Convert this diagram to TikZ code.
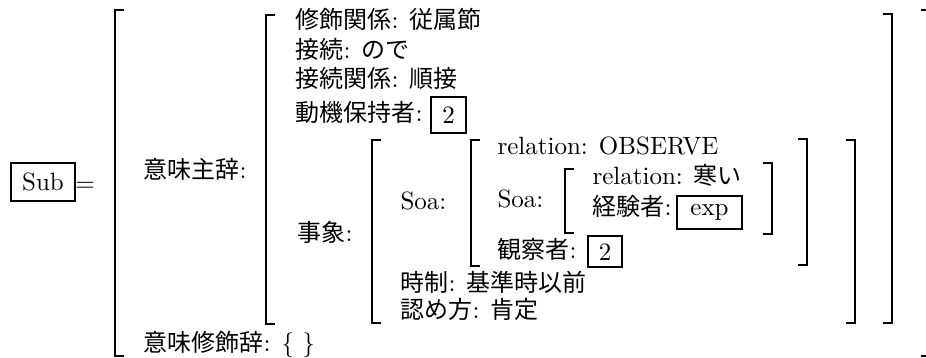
\documentclass[tikz,border=0pt]{standalone}
\usepackage{fontspec}
\newfontfamily\jp{Noto Sans CJK JP}[Scale=0.96]
\begin{document}
\begin{tikzpicture}[x=0.4pt,y=-0.4pt,
  lbl/.style={anchor=base west, inner sep=0pt, font=\fontsize{10}{12}\selectfont},
  valbox/.style={draw, line width=0.8pt, inner sep=0pt, anchor=center, font=\fontsize{10}{12}\selectfont},
  brk/.style={line width=0.8pt}]
\useasboundingbox (0,0) rectangle (926,358);
\clip (0,0) rectangle (926,358);
% Sub = 
\node[valbox, minimum width=25.6pt, minimum height=15.2pt] (sub) at (43,182) {Sub};
\node[anchor=base, inner sep=0pt, font=\fontsize{10}{12}\selectfont] (eq) at (85,192) {$=$};
% level 1
\draw[brk] (124,10) -- (115,10) -- (115,356) -- (124,356);
\draw[brk] (921,10) -- (932,10) -- (932,356) -- (921,356);
\node[lbl] (subj) at (143,179) {{\jp 意味主辞}:};
\node[lbl] (mod) at (143,352) {{\jp 意味修飾辞}: \{ \}};
% level 2
\draw[brk] (275,15) -- (266,15) -- (266,324) -- (275,324);
\draw[brk] (883,14) -- (892,14) -- (892,323) -- (883,323);
\node[lbl] (l1) at (295,29) {{\jp 修飾関係}: {\jp 従属節}};
\node[lbl] (l2) at (295,59) {{\jp 接続}: {\jp ので}};
\node[lbl] (l3) at (295,88) {{\jp 接続関係}: {\jp 順接}};
\node[lbl] (l4) at (295,122) {{\jp 動機保持者}:};
\node[valbox, minimum width=14pt, minimum height=14.4pt] (b1) at (448.5,115) {2};
\node[lbl] (ev) at (297,242) {{\jp 事象}:};
% level 3
\draw[brk] (381,140) -- (372,140) -- (372,323) -- (381,323);
\draw[brk] (846,140) -- (855,140) -- (855,323) -- (846,323);
\node[lbl] (soa1) at (400,210) {Soa:};
\node[lbl] (tense) at (400,292) {{\jp 時制}: {\jp 基準時以前}};
\node[lbl] (pol) at (400,319) {{\jp 認め方}: {\jp 肯定}};
% level 4
\draw[brk] (480,140) -- (471,140) -- (471,266) -- (480,266);
\draw[brk] (798,139) -- (807,139) -- (807,265) -- (798,265);
\node[lbl] (rel1) at (497,155) {relation: OBSERVE};
\node[lbl] (soa2) at (497,208) {Soa:};
\node[lbl] (obs) at (497,259) {{\jp 観察者}:};
\node[valbox, minimum width=13.6pt, minimum height=12.4pt] (b2) at (605,252) {2};
% level 5
\draw[brk] (574,169) -- (565,169) -- (565,233) -- (574,233);
\draw[brk] (763,163) -- (772,163) -- (772,234) -- (763,234);
\node[lbl] (rel2) at (592,185) {relation: {\jp 寒い}};
\node[lbl] (expl) at (592,216) {{\jp 経験者}:};
\node[valbox, minimum width=26pt, minimum height=13.2pt] (b3) at (709.5,212.5) {exp};
\end{tikzpicture}
\end{document}
